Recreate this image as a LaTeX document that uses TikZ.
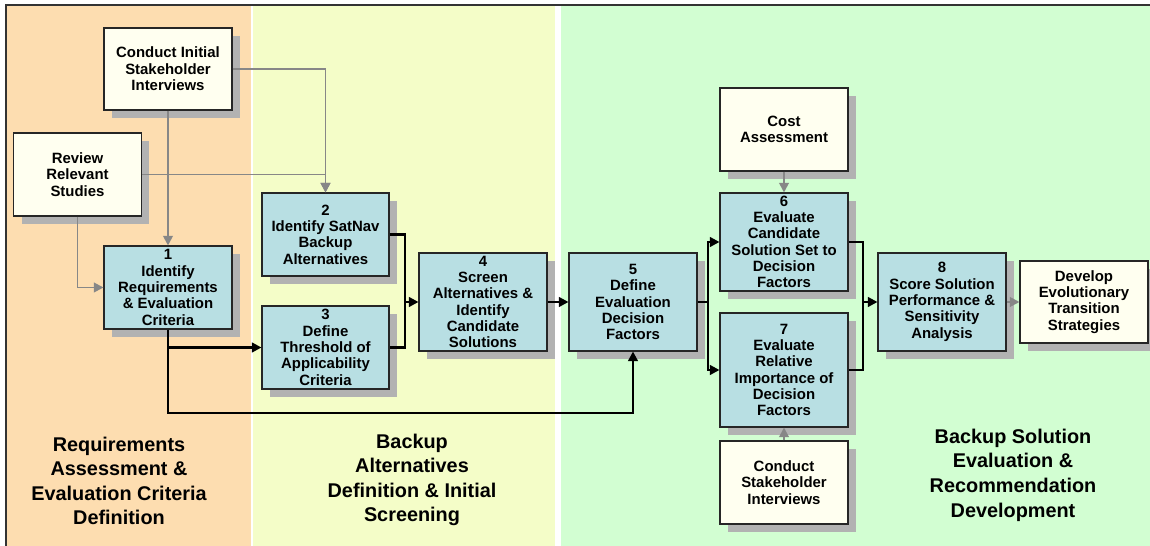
\documentclass[tikz,border=0pt]{standalone}
\usepackage{fontspec}
\setmainfont{Liberation Sans}
\usetikzlibrary{arrows.meta,shadows}

\definecolor{orangebg}{RGB}{253,221,176}
\definecolor{yellowbg}{RGB}{244,253,200}
\definecolor{greenbg}{RGB}{210,254,210}
\definecolor{taskblue}{RGB}{184,223,227}
\definecolor{inputcream}{RGB}{255,255,240}
\definecolor{feedgrey}{RGB}{135,135,135}

\begin{document}
\begin{tikzpicture}[x=0.02cm, y=-0.02cm,
	base box/.style={draw=black!85, line width=0.6pt, align=center, inner sep=1pt,
		font=\fontsize{8.5}{9.3}\selectfont\bfseries, minimum width=2.56cm,
		drop shadow={shadow xshift=0.16cm, shadow yshift=-0.16cm, fill=gray!60, opacity=1}},
	task box/.style={base box, fill=taskblue},
	input box/.style={base box, fill=inputcream},
	flow/.style={line width=1.4pt, -{Triangle[length=5.5pt,width=5.5pt]}},
	feed/.style={draw=feedgrey, line width=1.1pt, -{Triangle[length=5.5pt,width=5.5pt]}},
	phase/.style={align=center, font=\fontsize{11.3}{14}\selectfont\bfseries}]

	\useasboundingbox (0,0) rectangle (1150,546);

	% phase bands
	\fill[orangebg] (6,5) rectangle (251,546);
	\fill[yellowbg] (253,5) rectangle (555,546);
	\fill[greenbg] (561,5) rectangle (1150,546);
	\draw[black!80, line width=0.6pt] (6,546) -- (6,5) -- (1150,5);

	\node[phase] (p1) at (119,481) {Requirements\\Assessment \&\\Evaluation Criteria\\Definition};
	\node[phase] (p2) at (412,480) {Backup\\Alternatives\\Definition \& Initial\\Screening};
	\node[phase] (p3) at (1013,475) {Backup Solution\\Evaluation \&\\Recommendation\\Development};

	% inputs
	\node[input box, minimum height=1.64cm] (cisi) at (168,69) {Conduct Initial\\Stakeholder\\Interviews};
	\node[input box, minimum height=1.66cm] (rrs) at (77.5,174.5) {Review\\Relevant\\Studies};
	\node[input box, minimum height=1.66cm] (ca) at (784,129.5) {Cost\\Assessment};
	\node[input box, minimum height=1.66cm] (csi) at (784,482.5) {Conduct\\Stakeholder\\Interviews};
	\node[input box, minimum height=1.64cm] (dets) at (1084,302) {Develop\\Evolutionary\\Transition\\Strategies};

	% steps
	\node[task box, minimum height=1.66cm] (s1) at (168,287.5) {1\\Identify\\Requirements\\\& Evaluation\\Criteria};
	\node[task box, minimum height=1.66cm, minimum width=2.54cm] (s2) at (325.5,234.5) {2\\Identify SatNav\\Backup\\Alternatives};
	\node[task box, minimum height=1.66cm, minimum width=2.54cm] (s3) at (325.5,347.5) {3\\Define\\Threshold of\\Applicability\\Criteria};
	\node[task box, minimum height=1.96cm] (s4) at (483,302) {4\\Screen\\Alternatives \&\\Identify\\Candidate\\Solutions};
	\node[task box, minimum height=1.96cm] (s5) at (633,302) {5\\Define\\Evaluation\\Decision\\Factors};
	\node[task box, minimum height=1.96cm] (s6) at (784,242) {6\\Evaluate\\Candidate\\Solution Set to\\Decision\\Factors};
	\node[task box, minimum height=2.28cm] (s7) at (784,370) {7\\Evaluate\\Relative\\Importance of\\Decision\\Factors};
	\node[task box, minimum height=1.96cm] (s8) at (942,302) {8\\Score Solution\\Performance \&\\Sensitivity\\Analysis};

	% junctions
	\coordinate (low) at (168,413);
	\coordinate (j1) at (405,302);
	\coordinate (j2) at (708,302);
	\coordinate (j3) at (863,302);

	% grey feeds
	\draw[feed] (cisi.south) -- (s1.north);
	\draw[feed] (cisi.east) -| (s2.north);
	\draw[feed] (rrs.east) -| (s2.north);
	\draw[feed] (rrs.south) |- (s1.west);
	\draw[feed] (ca.south) -- (s6.north);
	\draw[feed] (csi.north) -- (s7.south);
	\draw[feed] (s8.east) -- (dets.west);

	% main flow
	\draw[flow] (s1.south) |- (s3.west);
	\draw[flow] (s1.south) -- (low) -| (s5.south);
	\draw[line width=1.4pt] (s2.east) -| (j1) |- (s3.east);
	\draw[flow] (j1) -- (s4.west);
	\draw[flow] (s4.east) -- (s5.west);
	\draw[line width=1.4pt] (s5.east) -- (j2);
	\draw[flow] (j2) |- (s6.west);
	\draw[flow] (j2) |- (s7.west);
	\draw[line width=1.4pt] (s6.east) -| (j3) |- (s7.east);
	\draw[flow] (j3) -- (s8.west);

\end{tikzpicture}
\end{document}
